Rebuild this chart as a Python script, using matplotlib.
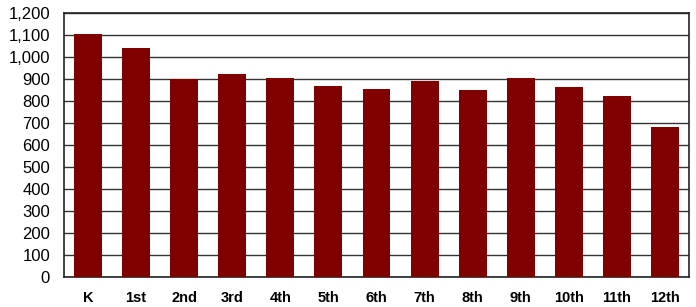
import matplotlib.pyplot as plt
from matplotlib.ticker import FuncFormatter

grades = ['K', '1st', '2nd', '3rd', '4th', '5th', '6th', '7th', '8th', '9th', '10th', '11th', '12th']
counts = [1104, 1041, 898, 923, 905, 869, 856, 892, 850, 904, 864, 823, 683]

plt.rcParams['font.family'] = ['Liberation Sans', 'DejaVu Sans']

fig = plt.figure(figsize=(6.96, 3.07), dpi=100)
ax = fig.add_axes([64 / 696, 30 / 307, 625 / 696, 264 / 307])

x = range(len(grades))
ax.bar(x, counts, width=0.58, color='#800000', zorder=3)

ax.set_xlim(-0.5, len(grades) - 0.5)
ax.set_ylim(0, 1200)
ax.set_yticks(range(0, 1201, 100))
ax.yaxis.set_major_formatter(FuncFormatter(lambda v, p: f'{int(v):,}'))
ax.set_xticks(list(x))
ax.set_xticklabels(grades, fontweight='bold', fontsize=10.5)
ax.tick_params(axis='y', length=0, pad=10, labelsize=12)
ax.tick_params(axis='x', length=0, pad=10)
ax.grid(axis='y', color='#333333', linewidth=1, zorder=0)
for s in ax.spines.values():
    s.set_color('#222222')
    s.set_linewidth(1.2)

fig.savefig('out.png', dpi=100)
